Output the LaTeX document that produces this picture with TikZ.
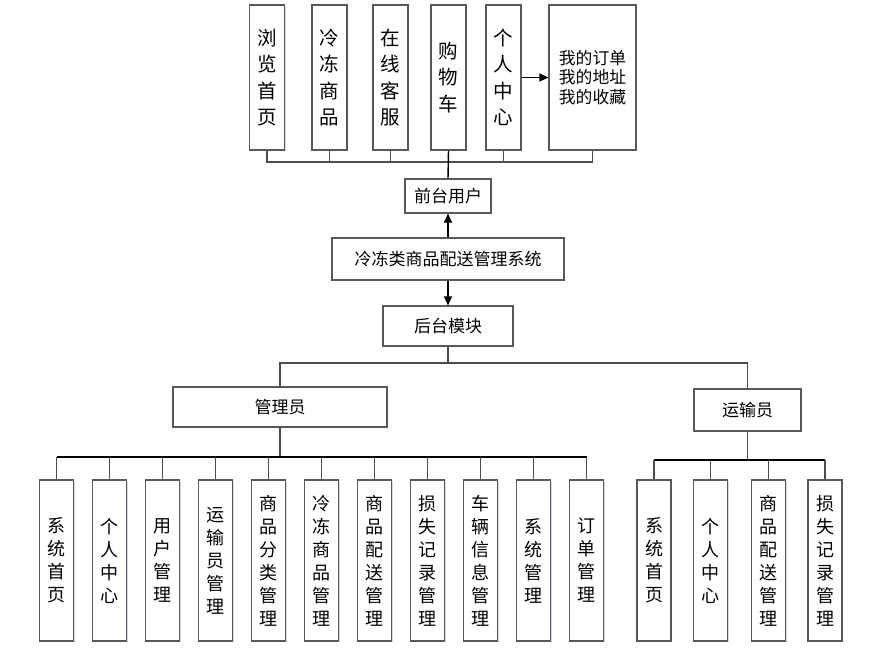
\documentclass[tikz,border=0pt]{standalone}
\usepackage{fontspec}
\setmainfont{Noto Sans CJK SC}
\usetikzlibrary{arrows.meta,shadows}

\begin{document}
\begin{tikzpicture}[x=1pt, y=-1pt, >={Triangle[length=9pt,width=8pt]},
  box/.style={draw=black!65, line width=1.1pt, fill=white, inner sep=0pt, align=center,
    drop shadow={shadow xshift=1.2pt, shadow yshift=-1.2pt, opacity=0.25, fill=blue!25!gray}},
  mid/.style={box, font=\fontsize{17}{20}\selectfont},
  topbox/.style={box, minimum width=35pt, minimum height=145pt, font=\fontsize{19.5}{26.5}\selectfont},
  leaf/.style={box, minimum width=34pt, minimum height=161pt, font=\fontsize{18}{23}\selectfont},
  wire/.style={draw=black!70, line width=1.1pt}]
  \useasboundingbox (0,0) rectangle (880,653);

  % front end
  \node[topbox] (f1) at (267,77.5)   {浏\\览\\首\\页};
  \node[topbox] (f2) at (329.5,77.5) {冷\\冻\\商\\品};
  \node[topbox] (f3) at (390.5,77.5) {在\\线\\客\\服};
  \node[topbox] (f4) at (448.5,77.5) {购\\物\\车};
  \node[topbox] (f5) at (503.5,77.5) {个\\人\\中\\心};
  \node[topbox, minimum width=87pt, font=\fontsize{16.8}{19.5}\selectfont] (f6) at (592.5,77.5)
    {我的订单\\我的地址\\我的收藏};
  \node[mid, minimum width=86pt, minimum height=34pt] (front) at (448,196) {前台用户};

  % centre
  \node[mid, minimum width=232pt, minimum height=42pt] (sys) at (448,259) {冷冻类商品配送管理系统};
  \node[mid, minimum width=130pt, minimum height=40pt] (back) at (448,326) {后台模块};

  % back end
  \node[mid, minimum width=214pt, minimum height=40pt] (admin) at (280,407) {管理员};
  \node[mid, minimum width=107pt, minimum height=42pt] (trans) at (747.5,410) {运输员};

  \foreach \txt [count=\i] in {{系\\统\\首\\页}, {个\\人\\中\\心}, {用\\户\\管\\理},
      {运\\输\\员\\管\\理}, {商\\品\\分\\类\\管\\理}, {冷\\冻\\商\\品\\管\\理},
      {商\\品\\配\\送\\管\\理}, {损\\失\\记\\录\\管\\理}, {车\\辆\\信\\息\\管\\理},
      {系\\统\\管\\理}, {订\\单\\管\\理}}
    \node[leaf] (a\i) at ({3.5+53*\i},560.5) {\txt};

  \node[leaf] (t1) at (654,560.5)   {系\\统\\首\\页};
  \node[leaf] (t2) at (710.5,560.5) {个\\人\\中\\心};
  \node[leaf] (t3) at (768.5,560.5) {商\\品\\配\\送\\管\\理};
  \node[leaf] (t4) at (825,560.5)   {损\\失\\记\\录\\管\\理};

  \coordinate (fbus) at (448,162);
  \coordinate (bbus) at (448,363);
  \coordinate (abus) at (280,457);
  \coordinate (tbus) at (747.5,460);

  % connectors
  \draw[wire] (f1.south) |- (fbus) -| (f6.south);
  \foreach \n in {f2,f3,f5}
    \draw[wire] (\n.south) -- (\n.south |- fbus);
  \draw[line width=1.4pt] (f4.south) -- (front.north);
  \draw[wire, draw=black, ->] (f5) -- (f6);
  \draw[wire, draw=black, ->] (sys) -- (front);
  \draw[wire, draw=black, ->] (sys) -- (back);

  \draw[wire] (back) -- (bbus);
  \draw[wire] (admin.north) |- (bbus) -| (trans.north);

  \draw[wire] (admin) -- (abus);
  \draw[wire, draw=black] (a1.north |- abus) -- (a11.north |- abus);
  \foreach \i in {1,...,11}
    \draw[wire] (a\i.north) -- (a\i.north |- abus);

  \draw[wire] (trans) -- (tbus);
  \draw[wire, draw=black] (t1.north |- tbus) -- (t4.north |- tbus);
  \foreach \n in {t1,t2,t3,t4}
    \draw[wire] (\n.north) -- (\n.north |- tbus);
\end{tikzpicture}
\end{document}
